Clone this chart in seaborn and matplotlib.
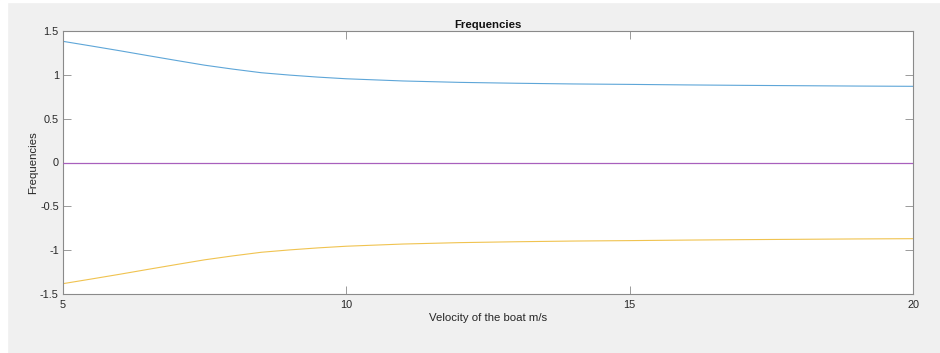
import numpy as np
import pandas as pd
import matplotlib
matplotlib.use("Agg")
import matplotlib.pyplot as plt
import seaborn as sns
from matplotlib.patches import Rectangle

# Data
velocity = [5, 5.5, 6, 6.5, 7, 7.5, 8, 8.5, 9, 9.5, 10, 11, 12, 13, 14, 15, 16, 17, 18, 19, 20]
freq_upper = [1.382, 1.329, 1.275, 1.219, 1.164, 1.110, 1.065, 1.024, 0.997, 0.974, 0.955,
              0.930, 0.914, 0.904, 0.896, 0.891, 0.885, 0.880, 0.876, 0.872, 0.869]
freq_lower = [-1.382, -1.329, -1.275, -1.219, -1.164, -1.110, -1.065, -1.024, -0.997, -0.974, -0.955,
              -0.930, -0.914, -0.904, -0.896, -0.891, -0.885, -0.880, -0.876, -0.872, -0.869]
freq_zero = [0.0] * len(velocity)

color_upper = "#5ea6d8"
color_zero = "#a860bd"
color_lower = "#f0c350"

sns.set_style("white")
plt.rcParams["font.family"] = ["Liberation Sans", "DejaVu Sans"]

fig = plt.figure(figsize=(9.4, 3.53), dpi=100, facecolor="#f0f0f0")
fig.patches.append(Rectangle((0, 0), 7 / 940, 1, transform=fig.transFigure, color="white", zorder=-1))
fig.patches.append(Rectangle((0, 1 - 2 / 353), 1, 2 / 353, transform=fig.transFigure, color="white", zorder=-1))

ax = fig.add_axes([63 / 940, 1 - 294 / 353, 850 / 940, 263 / 353])
ax.set_facecolor("white")

sns.lineplot(x=velocity, y=freq_upper, color=color_upper, ax=ax, linewidth=0.8)
sns.lineplot(x=velocity, y=freq_zero, color=color_zero, ax=ax, linewidth=0.9, zorder=5)
sns.lineplot(x=velocity, y=freq_lower, color=color_lower, ax=ax, linewidth=0.8)

ax.set_xlim(5, 20)
ax.set_ylim(-1.5, 1.5)
ax.set_xticks([5, 10, 15, 20])
ax.set_xticklabels(["5", "10", "15", "20"])
ax.set_yticks([-1.5, -1, -0.5, 0, 0.5, 1, 1.5])
ax.set_yticklabels(["-1.5", "-1", "-0.5", "0", "0.5", "1", "1.5"])

for sp in ax.spines.values():
    sp.set_color("#8a8a8a")
    sp.set_linewidth(0.8)
    sp.set_visible(True)

ax.tick_params(axis="both", which="both", direction="in", length=5.8, width=0.6,
               color="#8a8a8a", labelcolor="#262626", labelsize=7.8,
               top=True, right=True, bottom=True, left=True)
ax.tick_params(axis="x", pad=4)
ax.tick_params(axis="y", pad=3)

ax.set_title("Frequencies", fontsize=8.2, fontweight="bold", color="#111111", pad=2.5)
ax.set_xlabel("Velocity of the boat m/s", fontsize=8.2, color="#262626", labelpad=2.5)
ax.set_ylabel("Frequencies", fontsize=8.2, color="#262626", labelpad=1)

fig.savefig("out.png", dpi=100, facecolor=fig.get_facecolor())
